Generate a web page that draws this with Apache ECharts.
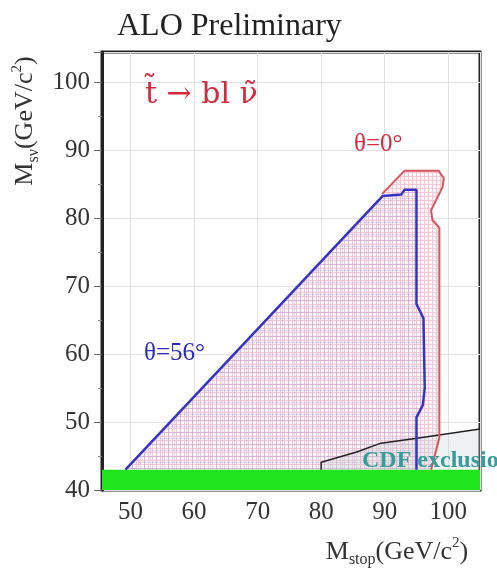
<!DOCTYPE html>
<html>
  <head>
    <meta charset="UTF-8">
    <title>ALO stop limit</title>
    <script src="https://cdn.jsdelivr.net/npm/echarts@6/dist/echarts.min.js"></script>
    <style>
      html, body { margin: 0; padding: 0; background: #fff; }
      #main { width: 497px; height: 573px; }
    </style>
  </head>
  <body>
    <div id="main"></div>
    <script>
      // axis ranges
      var xRange = [45.5, 105];
      var yRange = [40, 104.5];

      // theta = 56 deg contour (blue)
      var blueX = [49.2, 89.7, 92.6, 93.1, 95.0, 95.0, 96.1, 96.3, 96.0, 95.0, 95.0];
      var blueY = [43.0, 83.3, 83.5, 84.2, 84.2, 67.4, 65.3, 55.0, 52.5, 50.7, 43.0];

      // theta = 0 deg contour (red)
      var redX = [89.6, 93.1, 98.5, 99.3, 99.1, 97.3, 97.5, 98.6, 98.6, 97.3];
      var redY = [83.6, 87.0, 87.0, 85.9, 84.6, 81.2, 79.8, 78.6, 47.7, 43.0];

      // CDF exclusion boundary
      var cdfX = [80.0, 80.0, 85.6, 89.4, 94.8, 105.0];
      var cdfY = [43.0, 44.1, 45.6, 46.9, 47.6, 49.0];

      // LEP kinematic band at the bottom
      var bandY = [40, 43];

      function pairs(xs, ys) {
        return xs.map(function (x, i) { return [x, ys[i]]; });
      }

      function hatch(bg, line, step) {
        var c = document.createElement('canvas');
        c.width = c.height = step;
        var g = c.getContext('2d');
        if (bg) { g.fillStyle = bg; g.fillRect(0, 0, step, step); }
        g.fillStyle = line;
        g.fillRect(0, 0, step, 1);
        g.fillRect(0, 0, 1, step);
        return { image: c, repeat: 'repeat' };
      }

      function polySeries(xs, ys, fill) {
        return {
          type: 'custom',
          silent: true,
          clip: true,
          data: [[xs[0], ys[0]]],
          renderItem: function (params, api) {
            var pts = xs.map(function (x, i) { return api.coord([x, ys[i]]); });
            return { type: 'polygon', shape: { points: pts }, style: { fill: fill } };
          }
        };
      }

      // closed regions built from the contours
      var redRegX = redX.concat([blueX[0]]);
      var redRegY = redY.concat([blueY[0]]);
      var cdfRegX = cdfX.concat([xRange[1]]);
      var cdfRegY = cdfY.concat([bandY[1]]);
      var bandX = [xRange[0], xRange[1], xRange[1], xRange[0]];
      var bandYY = [bandY[0], bandY[0], bandY[1], bandY[1]];

      var serif = 'Liberation Serif';
      var richAxis = {
        sub: { fontFamily: serif, fontSize: 16, color: '#333', verticalAlign: 'bottom', lineHeight: 32 },
        sup: { fontFamily: serif, fontSize: 15, color: '#333', verticalAlign: 'top', lineHeight: 32 }
      };
      var myChart = echarts.init(document.getElementById('main'));

      var option = {
        animation: false,
        backgroundColor: '#fff',
        title: {
          text: 'ALO Preliminary',
          left: 112,
          top: 6,
          textStyle: { fontFamily: serif, fontSize: 32, fontWeight: 'normal', color: '#222' }
        },
        grid: {
          left: 102, right: 17, top: 52, bottom: 78,
          show: true, borderColor: '#222', borderWidth: 3, backgroundColor: '#fff'
        },
        xAxis: {
          type: 'value',
          min: xRange[0],
          max: xRange[1],
          splitNumber: 6,
          axisLine: { show: false },
          axisTick: { show: false },
          axisLabel: {
            showMinLabel: false, showMaxLabel: false, margin: 10,
            fontFamily: serif, fontSize: 25, color: '#333'
          },
          splitLine: { lineStyle: { color: '#e2e2e2', width: 1 } },
          name: 'M{sub|stop}(GeV/c{sup|2})',
          nameLocation: 'middle',
          nameGap: 46,
          nameTextStyle: {
            fontFamily: serif, fontSize: 26, color: '#333', lineHeight: 32,
            padding: [0, 0, 0, 212],
            rich: richAxis
          }
        },
        yAxis: {
          type: 'value',
          min: yRange[0],
          max: yRange[1],
          interval: 10,
          axisLine: { show: true, lineStyle: { color: '#222', width: 3 } },
          axisTick: { show: true, length: 8, lineStyle: { color: '#666' } },
          minorTick: { show: true, splitNumber: 2, length: 4, lineStyle: { color: '#888' } },
          axisLabel: {
            showMaxLabel: false, margin: 12,
            fontFamily: serif, fontSize: 25, color: '#333'
          },
          splitLine: { lineStyle: { color: '#e2e2e2', width: 1 } },
          name: 'M{sub|sν}(GeV/c{sup|2})',
          nameLocation: 'middle',
          nameGap: 60,
          nameRotate: 90,
          nameTextStyle: {
            fontFamily: serif, fontSize: 26, color: '#333', lineHeight: 32,
            padding: [0, 0, 0, 300],
            rich: richAxis
          }
        },
        series: [
          polySeries(redRegX, redRegY, hatch('#fdf5f8', '#f3c6d4', 4)),
          polySeries(blueX, blueY, hatch(null, 'rgba(150,140,215,0.28)', 6)),
          polySeries(cdfRegX, cdfRegY, 'rgba(195,208,212,0.3)'),
          polySeries(bandX, bandYY, '#1ee51e'),
          {
            type: 'line', data: pairs(cdfX, cdfY), symbol: 'none', silent: true,
            lineStyle: { color: '#222', width: 1.5 }
          },
          {
            type: 'line', data: pairs(redX, redY), symbol: 'none', silent: true,
            lineStyle: { color: '#d9545c', width: 2 }
          },
          {
            type: 'line', data: pairs(blueX, blueY), symbol: 'none', silent: true,
            lineStyle: { color: '#3434c4', width: 2.5 }
          }
        ],
        graphic: [
          {
            type: 'text', left: 145, top: 80, z: 100,
            style: { text: 't\u0303 \u2192 bl \u03bd\u0303', fontFamily: 'DejaVu Serif', fontSize: 30, fill: '#d42a3c' }
          },
          {
            type: 'text', left: 354, top: 132, z: 100,
            style: { text: 'θ=0°', fontFamily: serif, fontSize: 25, fill: '#d42a3c' }
          },
          {
            type: 'text', left: 144, top: 341, z: 100,
            style: { text: 'θ=56°', fontFamily: serif, fontSize: 25, fill: '#2c2cb8' }
          },
          {
            type: 'text', left: 362, top: 449, z: 100,
            style: { text: 'CDF exclusion', fontFamily: serif, fontSize: 24, fontWeight: 'bold', fill: '#3a9b9b' }
          }
        ]
      };

      myChart.setOption(option);
    </script>
  </body>
</html>
